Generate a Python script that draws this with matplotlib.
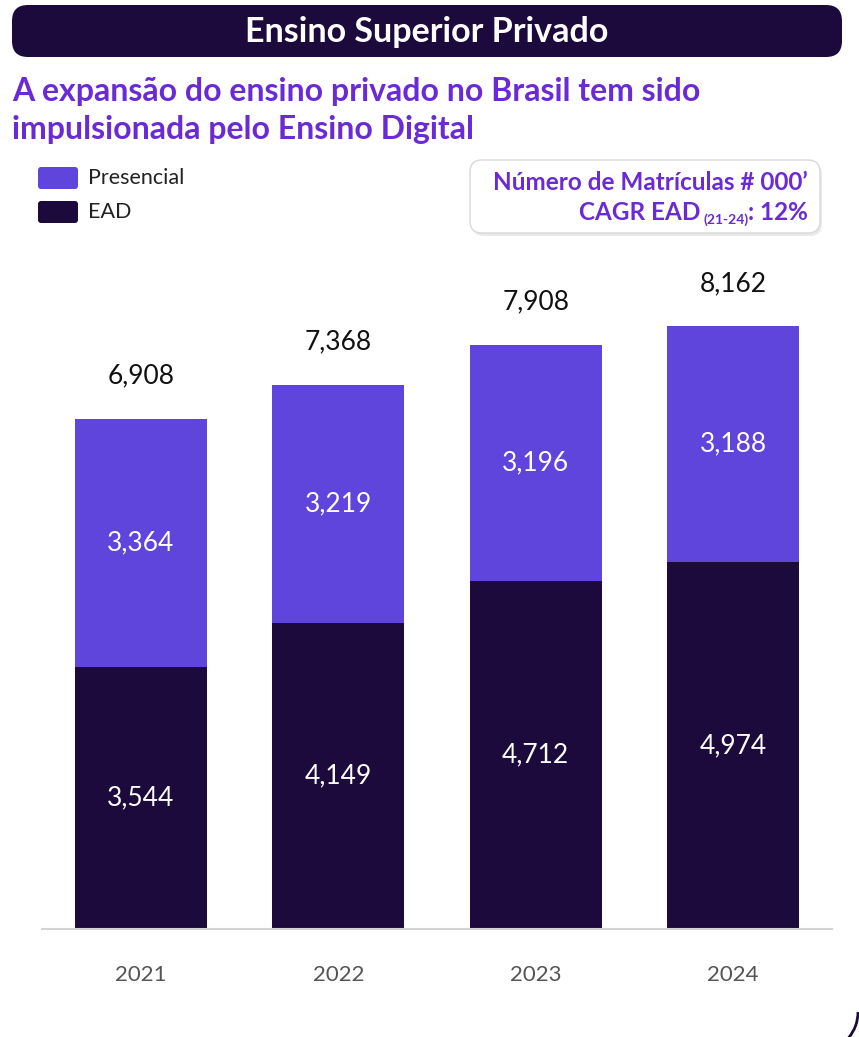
import matplotlib
matplotlib.use("Agg")
import matplotlib.pyplot as plt
from matplotlib.patches import FancyBboxPatch, Arc
import numpy as np

years = ["2021", "2022", "2023", "2024"]
ead = [3544, 4149, 4712, 4974]
presencial = [3364, 3219, 3196, 3188]
totals = [6908, 7368, 7908, 8162]

C_EAD = "#1d0a3c"
C_PRES = "#5f45dc"
C_PURPLE = "#6a2bd6"
FONT = "Lato"

W, H = 859, 1037
fig = plt.figure(figsize=(W / 100, H / 100), dpi=100)
fig.patch.set_facecolor("white")

# background overlay axes in pixel coordinates
bg = fig.add_axes([0, 0, 1, 1])
bg.set_xlim(0, W)
bg.set_ylim(H, 0)
bg.axis("off")

# title bar
bg.add_patch(FancyBboxPatch((12, 5), 830, 52, boxstyle="round,pad=0,rounding_size=16",
                            fc=C_EAD, ec="none"))
bg.text(427, 32, "Ensino Superior Privado", color="white", fontsize=24.5, fontweight="bold",
        family=FONT, ha="center", va="center")

# subtitle
bg.text(12, 92, "A expansão do ensino privado no Brasil tem sido", color=C_PURPLE,
        fontsize=23, fontweight="bold", family=FONT, ha="left", va="center")
bg.text(12, 129, "impulsionada pelo Ensino Digital", color=C_PURPLE,
        fontsize=23, fontweight="bold", family=FONT, ha="left", va="center")

# legend
for (y, lab, col) in [(167, "Presencial", C_PRES), (201, "EAD", C_EAD)]:
    bg.add_patch(FancyBboxPatch((38, y), 40, 22, boxstyle="round,pad=0,rounding_size=3",
                                fc=col, ec="none"))
    bg.text(88, y + 11, lab, color="#222222", fontsize=15.5, family=FONT, ha="left", va="center")

# info box with shadow
bg.add_patch(FancyBboxPatch((472, 163), 350, 73, boxstyle="round,pad=0,rounding_size=12",
                            fc="#dddddd", ec="none", alpha=0.6))
bg.add_patch(FancyBboxPatch((470, 160), 350, 73, boxstyle="round,pad=0,rounding_size=12",
                            fc="white", ec="#d8d8d8", lw=1))
bg.text(808, 182, "Número de Matrículas # 000’", color=C_PURPLE, fontsize=17.5,
        fontweight="bold", family=FONT, ha="right", va="center")

r = fig.canvas.get_renderer()
t1 = bg.text(808, 212, ": 12%", color=C_PURPLE, fontsize=17.5, fontweight="bold",
             family=FONT, ha="right", va="center")
bb = t1.get_window_extent(renderer=r)
x1 = bb.x0
t2 = bg.text(x1, 220, "(21-24)", color=C_PURPLE, fontsize=10, fontweight="bold",
             family=FONT, ha="right", va="center")
bb2 = t2.get_window_extent(renderer=r)
bg.text(bb2.x0 - 3, 212, "CAGR EAD", color=C_PURPLE, fontsize=17.5, fontweight="bold",
        family=FONT, ha="right", va="center")

# bottom-right decorative corner arc
bg.add_patch(Arc((818, 1012), 80, 80, theta1=0, theta2=40, color=C_EAD, lw=2))

# chart axes
top_px, base_px = 250, 929
px_per_unit = (929 - 419) / totals[0]
ax = fig.add_axes([42 / W, 1 - base_px / H, 790 / W, (base_px - top_px) / H])
ax.set_xlim(-0.5, 3.5)
ax.set_ylim(0, (base_px - top_px) / px_per_unit)
x = np.arange(len(years))
b1 = ax.bar(x, ead, width=0.667, color=C_EAD, zorder=2)
b2 = ax.bar(x, presencial, width=0.667, bottom=ead, color=C_PRES, zorder=2)

fmt = lambda v: f"{v:,.0f}"
ax.bar_label(b1, labels=[fmt(v) for v in ead], label_type="center", color="white",
             fontsize=19, family=FONT, padding=0)
ax.bar_label(b2, labels=[fmt(v) for v in presencial], label_type="center", color="white",
             fontsize=19, family=FONT)
ax.bar_label(b2, labels=[fmt(v) for v in totals], padding=22, color="#111111",
             fontsize=19, family=FONT)

ax.set_xticks(x)
ax.set_xticklabels(years, fontsize=16, color="#555555", family=FONT)
ax.tick_params(axis="x", length=0, pad=26)
ax.set_yticks([])
for s in ["top", "right", "left"]:
    ax.spines[s].set_visible(False)
ax.spines["bottom"].set_color("#d4d4d4")
ax.spines["bottom"].set_linewidth(1.5)
ax.patch.set_alpha(0)

fig.savefig("out.png", dpi=100, facecolor="white")
